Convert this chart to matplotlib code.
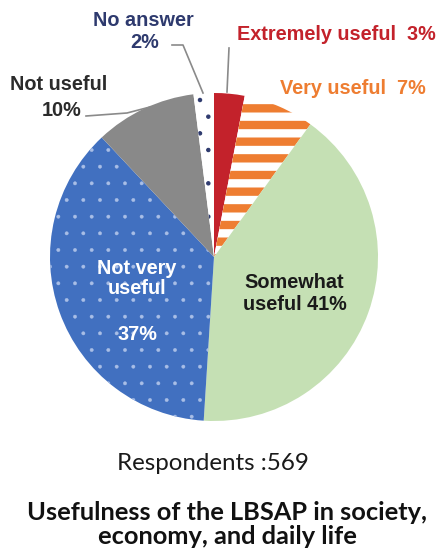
import matplotlib.pyplot as plt

# survey answers, clockwise from 12 o'clock
categories = ['Extremely useful', 'Very useful', 'Somewhat useful',
              'Not very useful', 'Not useful', 'No answer']
shares = [3, 7, 41, 37, 10, 2]
respondents = 569
title_lines = ['Usefulness of the LBSAP in society,', 'economy, and daily life']

W, H = 436, 550
fig = plt.figure(figsize=(W / 100, H / 100), dpi=100)
ax = fig.add_axes([0, 0, 1, 1])

faces = ['#C3222B', 'white', '#C5E0B4', '#4170C0', '#898989', 'white']
edges = ['#C3222B', '#EE7D31', '#C5E0B4', '#A9BEE6', '#898989', '#2E3A6E']
hatches = [None, '-', None, '.', None, '.']
hatch_lw = [0, 6, 0, 0.3, 0, 0.8]

cx, cy, r = 214, H - 257, 164
wedges, _ = ax.pie(shares, startangle=90, counterclock=False,
                   center=(cx, cy), radius=r, colors=faces,
                   wedgeprops=dict(linewidth=0))
for w, ec, h, hl in zip(wedges, edges, hatches, hatch_lw):
    w.set_edgecolor(ec)
    if h:
        w.set_hatch(h)
        if hasattr(w, 'set_hatch_linewidth'):
            w.set_hatch_linewidth(hl)

ax.set_xlim(0, W)
ax.set_ylim(0, H)
ax.set_aspect('auto')
ax.axis('off')

bold = dict(family=['Liberation Sans', 'DejaVu Sans'], fontweight='bold',
            fontsize=14.3, va='center')

def put(x, y, s, c, ha='center'):
    # y given from the top, like a screen
    ax.text(x, H - y, s, color=c, ha=ha, **bold)

put(143, 20, categories[5], '#2E3A6E')
put(145, 43, f'{shares[5]}%', '#2E3A6E')
put(237, 34, f'{categories[0]}  {shares[0]}%', '#C3222B', ha='left')
put(280, 88, f'{categories[1]}  {shares[1]}%', '#EE7D31', ha='left')
put(59, 85, categories[4], '#2B2B2B')
put(62, 110, f'{shares[4]}%', '#2B2B2B')
put(137, 268, 'Not very', 'white')
put(137, 289, 'useful', 'white')
put(137, 335, f'{shares[3]}%', 'white')
put(294, 283, 'Somewhat', '#1A1A1A')
put(295, 305, f'useful {shares[2]}%', '#1A1A1A')

# leader lines
lc = '#8A8A8A'
ax.plot([172, 183, 203], [H - 45, H - 45, H - 93], color=lc, lw=1.2)
ax.plot([229, 227], [H - 48, H - 92], color=lc, lw=1.2)
ax.plot([86, 127, 150], [H - 116, H - 113, H - 107], color=lc, lw=1.2)

ax.text(213, H - 463, f'Respondents :{respondents}', ha='center', va='center',
        family=['Lato', 'DejaVu Sans'], fontsize=17.4, color='#1A1A1A')
for y, line in zip([512, 537], title_lines):
    ax.text(227, H - y, line, ha='center', va='center',
            family=['Lato', 'DejaVu Sans'], fontweight='bold', fontsize=18.3,
            color='#111111')

fig.savefig('out.png', dpi=100)
